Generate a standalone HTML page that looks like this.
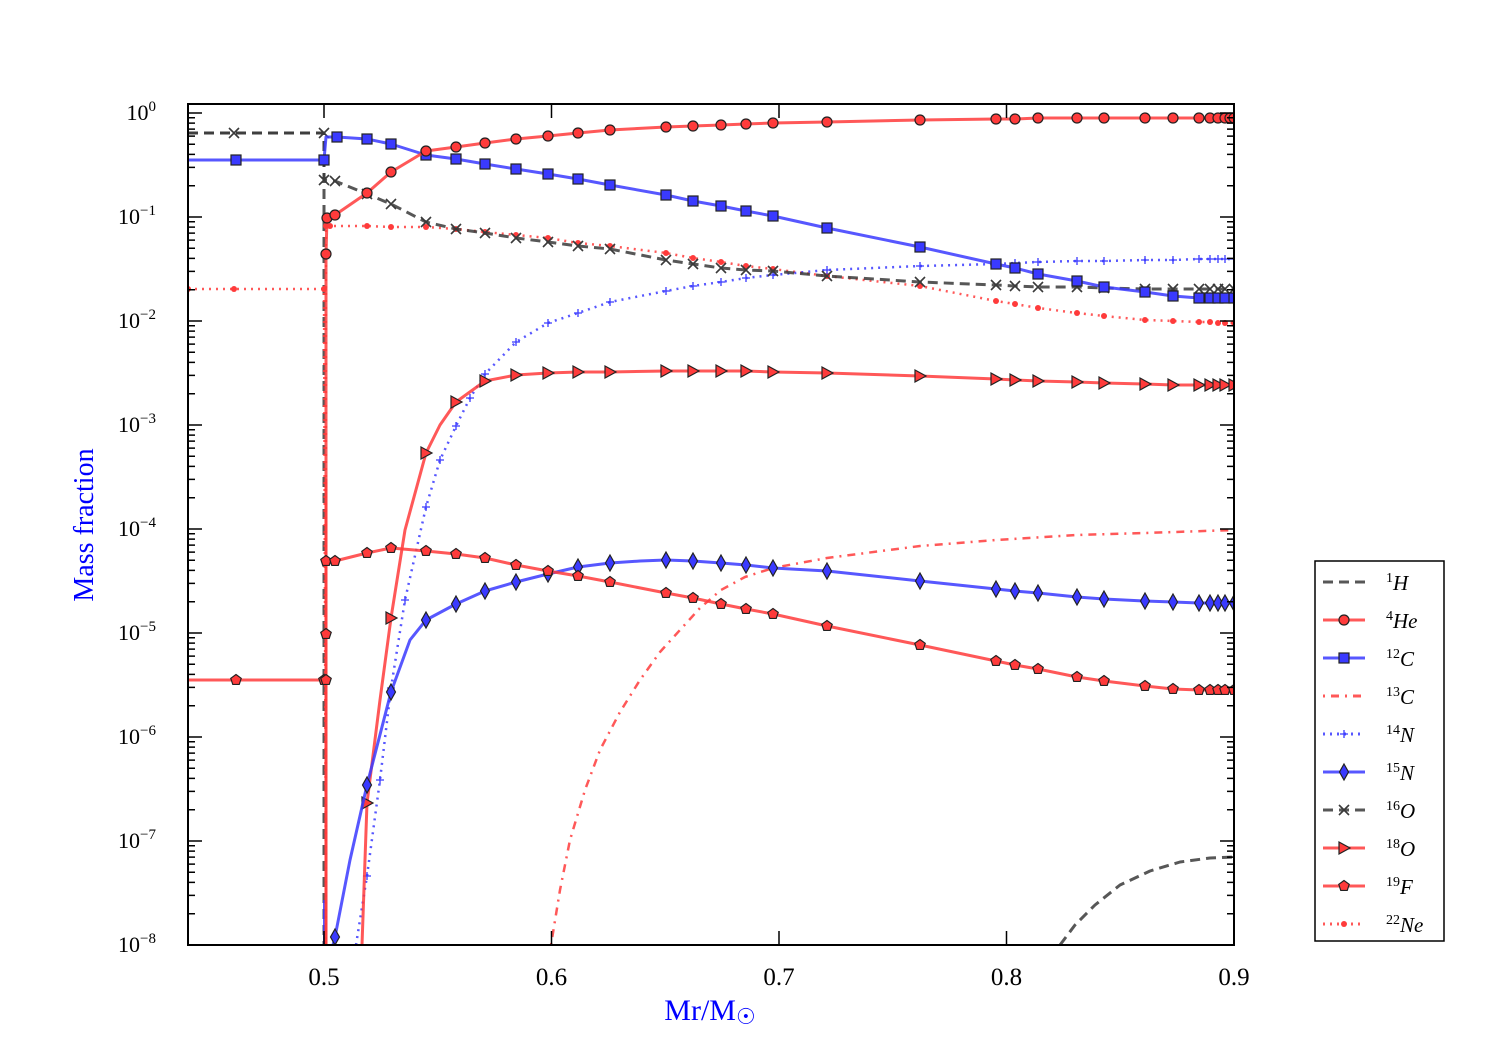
<!DOCTYPE html>
<html><head><meta charset="utf-8"><style>
html,body{margin:0;padding:0;background:#fff;width:1500px;height:1050px;overflow:hidden}
svg{display:block;position:absolute;left:0;top:0}
text{font-family:"Liberation Serif","DejaVu Serif",serif}
</style></head><body>
<svg id="s" width="1500" height="1050" xmlns="http://www.w3.org/2000/svg"></svg>
<script>
const S=document.getElementById('s');const NS='http://www.w3.org/2000/svg';
function el(t,a,p){const e=document.createElementNS(NS,t);for(const k in a)e.setAttribute(k,a[k]);(p||S).appendChild(e);return e;}
const L=188,R=1234,T=104,B=945;
const clip=el('clipPath',{id:'c'},el('defs',{}));el('rect',{x:L,y:T,width:R-L,height:B-T},clip);
const G=el('g',{'clip-path':'url(#c)'});
const RED='#ff3b3b',BLUE='#3a3aff',BLK='#3a3a3a';
function line(pts,col,dash,w){el('polyline',{points:pts.map(p=>p[0]+','+p[1]).join(' '),fill:'none',stroke:col,'stroke-width':w||3,'stroke-dasharray':dash||'','stroke-opacity':0.85,'stroke-linejoin':'round'},G);}
function mk(type,x,y,col,g){g=g||G;const ec='#222',sw=1.2;
 if(type=='o')el('circle',{cx:x,cy:y,r:5,fill:col,stroke:ec,'stroke-width':sw},g);
 else if(type=='s')el('rect',{x:x-5,y:y-5,width:10,height:10,fill:col,stroke:ec,'stroke-width':sw},g);
 else if(type=='d')el('polygon',{points:`${x},${y-8} ${x+4.5},${y} ${x},${y+8} ${x-4.5},${y}`,fill:col,stroke:ec,'stroke-width':sw},g);
 else if(type=='>')el('polygon',{points:`${x-5},${y-6} ${x+6},${y} ${x-5},${y+6}`,fill:col,stroke:ec,'stroke-width':sw},g);
 else if(type=='p'){let s='';for(let i=0;i<5;i++){const a=-Math.PI/2+i*2*Math.PI/5;s+=(x+5.5*Math.cos(a))+','+(y+5.5*Math.sin(a))+' ';}el('polygon',{points:s,fill:col,stroke:ec,'stroke-width':sw},g);}
 else if(type=='x'){el('path',{d:`M${x-5},${y-5}L${x+5},${y+5}M${x-5},${y+5}L${x+5},${y-5}`,stroke:BLK,'stroke-width':1.6},g);}
 else if(type=='+'){el('path',{d:`M${x-4},${y}L${x+4},${y}M${x},${y-4}L${x},${y+4}`,stroke:BLUE,'stroke-width':1.3},g);}
 else if(type=='.')el('circle',{cx:x,cy:y,r:3,fill:RED},g);
}
function ser(pts,col,dash,m,mc,w){line(pts,col,dash,w);if(m)pts.forEach(p=>{if(!p[2])mk(m,p[0],p[1],mc);});}
// C13
line([[551,945],[560,890],[570,840],[585,790],[600,750],[620,712],[640,680],[660,652],[680,630],[700,608],[721,590],[745,577],[773,568],[827,558],[920,546],[996,540],[1077,535],[1145,533],[1234,530]],RED,'2,6,8,6',2.5);
// H1
line([[188,133],[324,133],[324,960]],BLK,'10,6',3);
line([[1060,945],[1075,925],[1095,905],[1120,885],[1150,871],[1180,862],[1210,858],[1234,857]],BLK,'10,6',3);
// Ne22
ser([[188,289],[234,289],[324,289],[326,945,1],[326,289,1],[326,226],[330,226],[367,226],[391,227],[426,227],[456,229],[485,232],[516,235],[548,238],[578,243],[610,246],[666,253],[693,258],[721,262],[746,266],[773,269],[827,276],[920,286],[996,301],[1015,304],[1038,308],[1077,313],[1104,316],[1145,320],[1173,321],[1199,322],[1210,322],[1218,323],[1225,323],[1234,323]],RED,'2,5','.',RED,2.5);
// N14
ser([[356,945,1],[367,876],[380,780],[391,688],[405,600],[426,507],[440,460],[456,426],[470,398],[485,374],[516,342],[548,323],[578,313],[610,302],[666,291],[693,286],[721,282],[746,278],[773,275],[827,270],[920,266],[996,264],[1015,263],[1038,262],[1077,261],[1104,261],[1145,260],[1173,260],[1199,259],[1210,259],[1218,259],[1225,259],[1234,259]],BLUE,'2,5','+',BLUE,2.5);
// O16
ser([[188,133,1],[234,133],[324,133],[324,180],[335,181],[367,194],[391,204],[426,222],[456,229],[485,233],[516,238],[548,242],[578,246],[610,249],[666,260],[693,264],[721,268],[746,270],[773,271],[827,276],[920,282],[996,285],[1015,286],[1038,287],[1077,287],[1104,288],[1145,289],[1173,289],[1199,289],[1210,289],[1218,289],[1225,289],[1234,289]],BLK,'10,6','x',BLK,3);
// C12
ser([[188,160,1],[236,160],[324,160],[326,137,1],[337,137],[367,139],[391,144],[426,155],[456,159],[485,164],[516,169],[548,174],[578,179],[610,185],[666,195],[693,201],[721,206],[746,211],[773,216],[827,228],[920,247],[996,264],[1015,268],[1038,274],[1077,281],[1104,287],[1145,292],[1173,296],[1199,298],[1210,298],[1218,298],[1225,298],[1234,298]],BLUE,'','s',BLUE,3);
// He4
ser([[326,945,1],[326,254],[327,218],[335,215],[367,193],[391,172],[426,151],[456,147],[485,143],[516,139],[548,136],[578,133],[610,130],[666,127],[693,126],[721,125],[746,124],[773,123],[827,122],[920,120],[996,119],[1015,119],[1038,118],[1077,118],[1104,118],[1145,118],[1173,118],[1199,118],[1210,118],[1218,118],[1225,118],[1230,118],[1234,118]],RED,'','o',RED,3);
// O18
ser([[362,945,1],[367,803],[380,700,1],[391,618],[405,530,1],[426,453],[440,425,1],[456,402],[485,381],[516,375],[548,373],[578,372],[610,372],[666,371],[693,371],[721,371],[746,371],[773,372],[827,373],[920,376],[996,379],[1015,380],[1038,381],[1077,382],[1104,383],[1145,384],[1173,385],[1199,385],[1210,385],[1218,385],[1225,385],[1234,385]],RED,'','>',RED,3);
// N15
ser([[333,945,1],[335,937],[350,860,1],[367,785],[391,692],[410,640,1],[426,620],[456,604],[485,591],[516,582],[548,574],[578,567],[610,563],[640,561,1],[666,560],[693,561],[721,563],[746,565],[773,568],[827,571],[920,581],[996,589],[1015,591],[1038,593],[1077,597],[1104,599],[1145,601],[1173,602],[1199,603],[1210,603],[1218,603],[1225,603],[1234,603]],BLUE,'','d',BLUE,3);
line([[324,945],[324,900]],BLUE,'',2);
// F19
ser([[188,680,1],[236,680],[324,680],[326,680,1],[326,945,1],[326,480,1],[326,634],[326,561],[335,561],[367,553],[391,548],[426,551],[456,554],[485,558],[516,565],[548,571],[578,576],[610,582],[666,593],[693,598],[721,604],[746,609],[773,614],[827,626],[920,645],[996,661],[1015,665],[1038,669],[1077,677],[1104,681],[1145,686],[1173,689],[1199,690],[1210,690],[1218,690],[1225,690],[1234,690]],RED,'','p',RED,3);
mk('p',326,680,RED);
// axes
el('rect',{x:L,y:T,width:R-L,height:B-T,fill:'none',stroke:'#000','stroke-width':2});
let d='';
for(let k=0;k<=8;k++){const y=113+104*k;if(y<=B+1){d+=`M${L},${y}h14M${R},${y}h-14`;const t=el('text',{x:156,y:y+7,'font-size':22,'text-anchor':'end'});t.innerHTML=k==0?'10<tspan dy="-9" font-size="15">0</tspan>':'10<tspan dy="-9" font-size="15">−'+k+'</tspan>';}
 for(let m=2;m<=9;m++){const yy=y-104*Math.log10(m);if(yy>T&&yy<B)d+=`M${L},${yy}h7M${R},${yy}h-7`;}}
[0.5,0.6,0.7,0.8,0.9].forEach(v=>{const x=324+(v-0.5)*2275;d+=`M${x},${B}v-14M${x},${T}v14`;const t=el('text',{x:x,y:985,'font-size':25,'text-anchor':'middle'});t.textContent=v.toFixed(1);});
el('path',{d:d,stroke:'#000','stroke-width':1.5,fill:'none'});
const yl=el('text',{x:0,y:0,'font-size':28,fill:'#00f','text-anchor':'middle',transform:'translate(93,525) rotate(-90)'});yl.textContent='Mass fraction';
const xl=el('text',{x:710,y:1020,'font-size':30,fill:'#00f','text-anchor':'middle'});xl.innerHTML='Mr/M<tspan font-size="22" dy="4">☉</tspan>';
// legend
el('rect',{x:1315,y:561,width:129,height:380,fill:'#fff',stroke:'#000','stroke-width':1.5});
const leg=[['1','H',BLK,'10,6',null],['4','He',RED,'','o'],['12','C',BLUE,'','s'],['13','C',RED,'2,6,8,6',null],['14','N',BLUE,'2,5','+'],['15','N',BLUE,'','d'],['16','O',BLK,'10,6','x'],['18','O',RED,'','>'],['19','F',RED,'','p'],['22','Ne',RED,'2,5','.']];
leg.forEach((e,i)=>{const y=582+38*i;el('line',{x1:1323,y1:y,x2:1365,y2:y,stroke:e[2],'stroke-width':3,'stroke-dasharray':e[3],'stroke-opacity':0.85});if(e[4])mk(e[4],1344,y,e[2],S);
 const t=el('text',{x:1386,y:y+8,'font-size':21});t.innerHTML='<tspan font-size="14" dy="-8">'+e[0]+'</tspan><tspan dy="8" font-style="italic">'+e[1]+'</tspan>';});
</script>
</body></html>
